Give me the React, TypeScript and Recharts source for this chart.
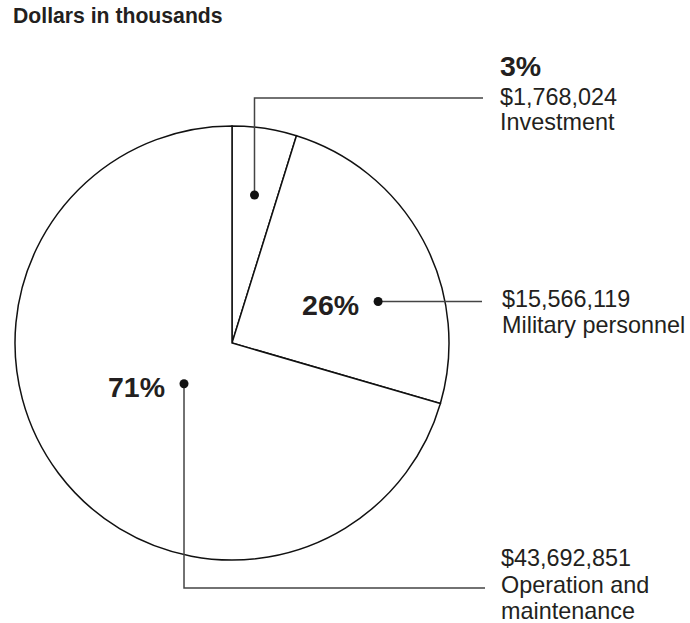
import React from 'react';
import { PieChart, Pie, Cell } from 'recharts';

// slice sizes as drawn in the picture (percent of the circle)
const drawnShares = [4.8, 24.7, 70.5];
const names = [['Investment'], ['Military personnel'], ['Operation and', 'maintenance']];
const amounts = ['$1,768,024', '$15,566,119', '$43,692,851'];
const percentLabels = ['3%', '26%', '71%'];

const data = drawnShares.map((v, i) => ({ name: names[i].join(' '), value: v }));

const FONT = 'Helvetica, Arial, "Liberation Sans", sans-serif';
const TEXT = '#231f20';
const RAD = Math.PI / 180;

// leader layout per slice: dot radius (fraction of R), angle shift, elbow and text spots
const LEADERS = [
  { r: 0.69, shift: 0, kind: 'up', elbowY: 98, endX: 483, textX: 500, pctY: 76, amtY: 105, gap: 24.5, pctSide: 'top' },
  { r: 0.7, shift: -12.4, kind: 'flat', endX: 482, textX: 502, amtY: 307, gap: 26, pctY: 315, pctSide: 'left' },
  { r: 0.29, shift: 3.4, kind: 'down', elbowY: 588, endX: 485, textX: 501, amtY: 566, gap: 26.5, pctY: 397, pctSide: 'left' },
];

const renderLabel = (props: any) => {
  const { cx, cy, midAngle, outerRadius, index } = props;
  const cfg = LEADERS[index];
  const ang = (midAngle + cfg.shift) * RAD;
  const x = cx + outerRadius * cfg.r * Math.cos(ang);
  const y = cy - outerRadius * cfg.r * Math.sin(ang);
  let pts = '';
  if (cfg.kind === 'up' || cfg.kind === 'down') {
    pts = `${x},${y} ${x},${cfg.elbowY} ${cfg.endX},${cfg.elbowY}`;
  } else {
    pts = `${x},${y} ${cfg.endX},${y}`;
  }
  const lines = [amounts[index], ...names[index]];
  return (
    <g key={`lbl-${index}`}>
      <polyline points={pts} fill="none" stroke="#444" strokeWidth={1.5} />
      <circle cx={x} cy={y} r={4.5} fill="#111" />
      {cfg.pctSide === 'top' ? (
        <text x={cfg.textX} y={cfg.pctY} fontFamily={FONT} fontWeight="bold" fontSize={28.5} fill={TEXT}>
          {percentLabels[index]}
        </text>
      ) : (
        <text x={x - 19} y={cfg.pctY} textAnchor="end" fontFamily={FONT} fontWeight="bold" fontSize={28.5} fill={TEXT}>
          {percentLabels[index]}
        </text>
      )}
      {lines.map((t, i) => (
        <text key={i} x={cfg.textX} y={cfg.amtY + i * cfg.gap} fontFamily={FONT} fontSize={23.4} fill={TEXT}>
          {t}
        </text>
      ))}
    </g>
  );
};

export default function App() {
  return (
    <div style={{ position: 'fixed', top: 0, left: 0, width: 690, height: 623, overflow: 'hidden', background: '#fff' }}>
      <PieChart width={690} height={623} margin={{ top: 0, right: 0, bottom: 0, left: 0 }}>
        <text x={13} y={23} fontFamily={FONT} fontWeight="bold" fontSize={21.2} fill={TEXT}>
          Dollars in thousands
        </text>
        <Pie
          data={data}
          dataKey="value"
          cx={232}
          cy={343}
          outerRadius={217}
          startAngle={90}
          endAngle={-270}
          stroke="#111"
          strokeWidth={1.5}
          label={renderLabel}
          labelLine={false}
          isAnimationActive={false}
        >
          {data.map((d, i) => (
            <Cell key={i} fill="#fff" />
          ))}
        </Pie>
      </PieChart>
    </div>
  );
}
